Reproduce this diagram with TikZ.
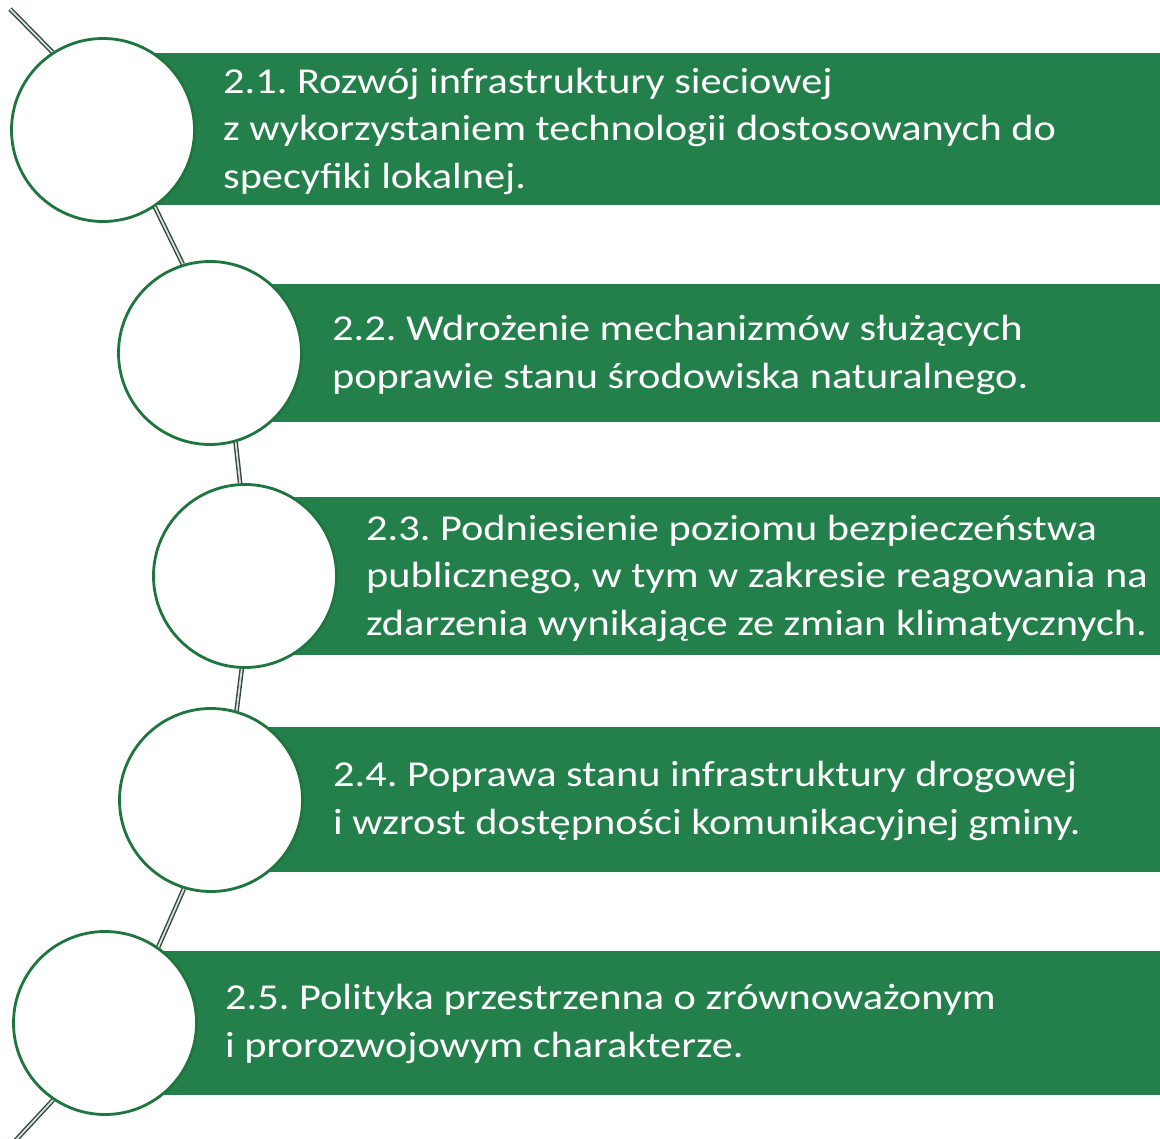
\documentclass[tikz,border=0pt]{standalone}
\usepackage{fontspec}
\setmainfont{Carlito}[FakeStretch=1.16]
\definecolor{bargreen}{RGB}{36,128,74}
\definecolor{ringgreen}{RGB}{28,118,62}
\definecolor{linkdark}{RGB}{50,70,60}
\definecolor{linklight}{RGB}{215,225,220}
\tikzset{
  bar/.style={fill=bargreen},
  ring/.style={circle, draw=ringgreen, line width=2.8pt, fill=white, minimum size=183pt, inner sep=0pt},
  itemtext/.style={anchor=west, align=left, text=white, inner sep=0pt, font=\fontsize{36.5}{47.5}\selectfont},
  link/.style={draw=linkdark, line width=1.4pt, double=linklight, double distance=1.8pt}
}
\frenchspacing
\begin{document}
\begin{tikzpicture}[x=1pt,y=-1pt]
\useasboundingbox (0,0) rectangle (1160,1139);
\fill[white] (0,0) rectangle (1160,1139);
% bars
\fill[bar] (103,53) rectangle (1160,205);
\fill[bar] (210,284) rectangle (1160,422);
\fill[bar] (245,497) rectangle (1160,655);
\fill[bar] (211,727) rectangle (1160,872);
\fill[bar] (105,951) rectangle (1160,1095);
% circles
\node[ring] (c1) at (103,130) {};
\node[ring] (c2) at (210,353) {};
\node[ring] (c3) at (245,576) {};
\node[ring] (c4) at (211,800) {};
\node[ring] (c5) at (105,1023) {};
% connectors
\coordinate (top) at (10,9);
\coordinate (bot) at (15,1141);
\draw[link] (top) -- (c1.123);
\draw[link] (c1.-56) -- (c2.107);
\draw[link] (c2.-74) -- (c3.93);
\draw[link] (c3.-92) -- (c4.74);
\draw[link] (c4.-107) -- (c5.55);
\draw[link] (c5.-124) -- (bot);
% texts
\node[itemtext] (t1) at (223,131) {2.1. Rozwój infrastruktury sieciowej\\z wykorzystaniem technologii dostosowanych do\\specyfiki lokalnej.};
\node[itemtext] (t2) at (332,355) {2.2. Wdrożenie mechanizmów służących\\poprawie stanu środowiska naturalnego.};
\node[itemtext] (t3) at (366,578) {2.3. Podniesienie poziomu bezpieczeństwa\\publicznego, w tym w zakresie reagowania na\\zdarzenia wynikające ze zmian klimatycznych.};
\node[itemtext] (t4) at (333,801) {2.4. Poprawa stanu infrastruktury drogowej\\i wzrost dostępności komunikacyjnej gminy.};
\node[itemtext] (t5) at (225,1024) {2.5. Polityka przestrzenna o zrównoważonym\\i prorozwojowym charakterze.};
\end{tikzpicture}
\end{document}
